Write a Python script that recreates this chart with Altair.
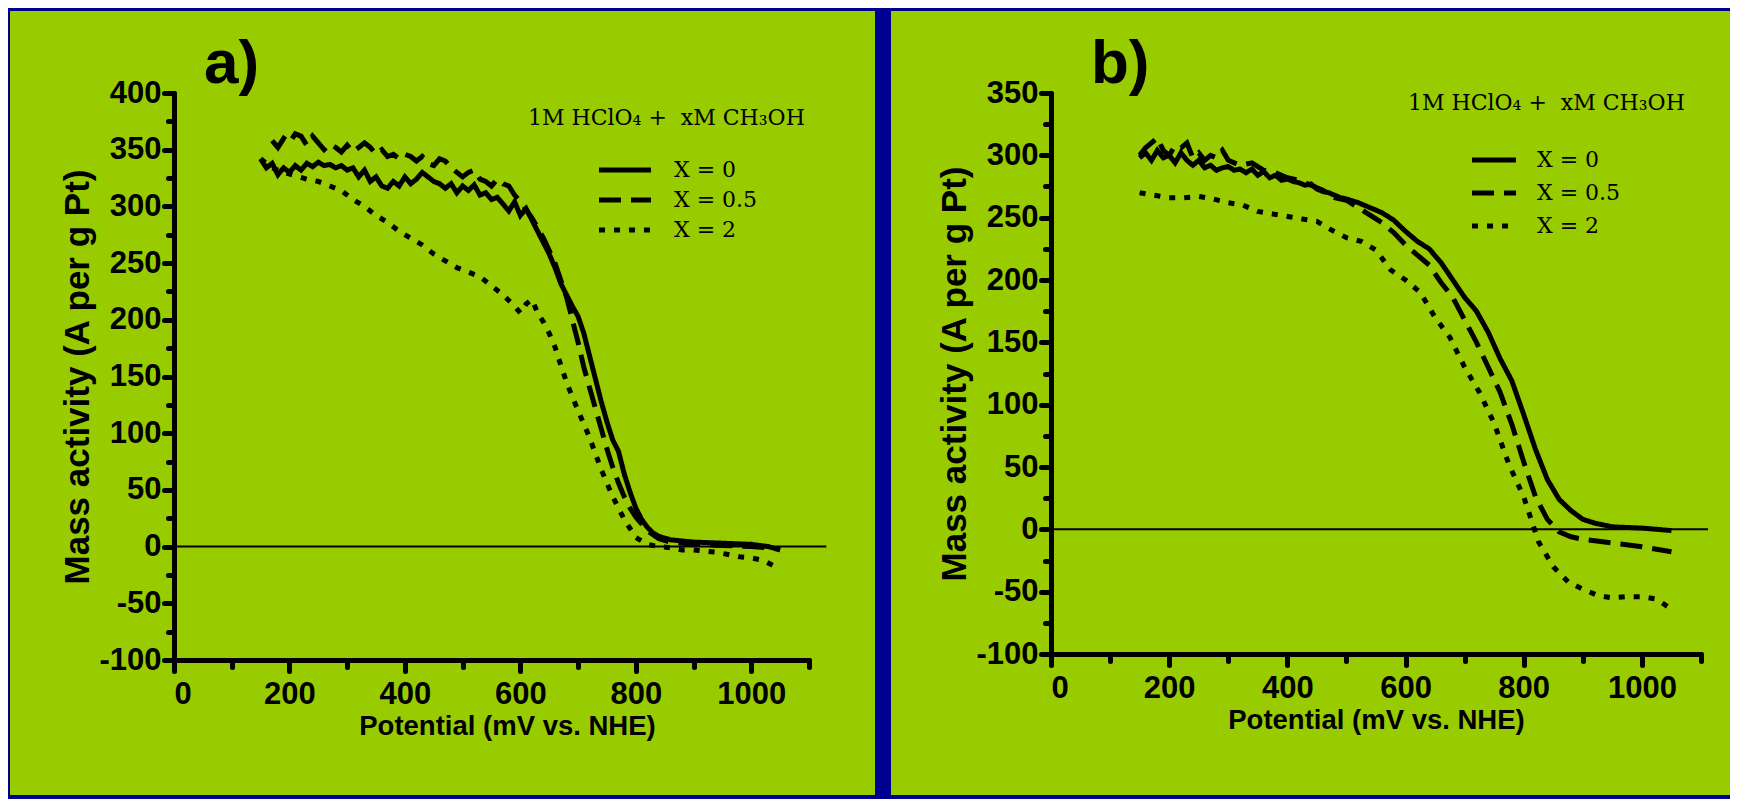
import altair as alt
import pandas as pd

BLUE = "#000090"
GREEN = "#99CC00"
SERIES = ["X = 0", "X = 0.5", "X = 2"]
HEADER = "1M HClO\u2084 +\u00a0 xM CH\u2083OH"

# ---------------- panel a ----------------
a_x0_x = list(range(150, 850, 10)) + [860, 880, 900, 950, 1000, 1030, 1050]
a_x0_y = [342, 334, 338, 328, 334, 330, 336, 332, 338, 335,
          339, 336, 337, 334, 336, 332, 334, 326, 332, 322,
          326, 318, 316, 322, 318, 326, 320, 324, 330, 326,
          322, 320, 316, 320, 312, 318, 314, 319, 310, 312,
          306, 308, 302, 296, 304, 292, 298, 288, 278, 268,
          258, 246, 232, 222, 212, 203, 188, 168, 148, 128,
          110, 94, 84, 64, 48, 34, 24, 17, 12, 9,
          6, 5, 4, 3, 2, 0, -3]

a_x05_x = list(range(170, 610, 10)) + [620, 640, 660, 680, 690, 700, 710, 720, 730, 740, 750,
                                       760, 770, 780, 790, 800, 820, 840, 860, 900, 950, 1000, 1050]
a_x05_y = [358, 352, 360, 356, 364, 362, 354, 362, 356, 350,
           355, 352, 348, 354, 348, 352, 356, 352, 346, 350,
           344, 346, 342, 346, 344, 340, 344, 338, 336, 342,
           340, 334, 330, 326, 330, 332, 324, 322, 318, 324,
           320, 318, 310, 304,
           290, 272, 250, 220, 200, 180, 158, 140, 122, 104, 86,
           70, 56, 44, 34, 26, 14, 7, 4, 2, 1, 0, -2]

a_x2_x = (list(range(150, 340, 20)) + list(range(350, 600, 20)) + list(range(600, 770, 10))
          + list(range(780, 1030, 20)) + [1050])
a_x2_y = [342, 334, 330, 327, 324, 322, 318, 314, 306, 300,
          292, 286, 278, 272, 266, 258, 252, 246, 242, 238, 230, 222, 212,
          206, 214, 218, 206, 198, 188, 176, 160, 145, 132, 120, 108, 96, 82, 68, 56, 44,
          24, 8, 2, 0, -1, -3, -3, -4, -5, -7, -9, -10, -12,
          -20]

# ---------------- panel b ----------------
b_x0_x = list(range(150, 510, 10)) + list(range(520, 910, 20)) + [920, 950, 1000, 1050]
b_x0_y = [298, 302, 296, 304, 298, 300, 294, 302, 296, 292,
          296, 290, 292, 288, 290, 291, 288, 289, 286, 289,
          284, 287, 282, 284, 280, 281, 279, 278, 276, 277,
          273, 271, 270, 268, 266, 265,
          262, 258, 254, 248, 239, 231, 225, 214, 200, 186,
          175, 158, 137, 119, 92, 64, 40, 24, 15, 8,
          5, 2, 1, -1]

b_x05_x = list(range(150, 310, 10)) + list(range(320, 910, 20)) + [950, 1000, 1050]
b_x05_y = [300, 306, 310, 314, 304, 300, 308, 306, 310, 298,
           302, 296, 300, 298, 304, 296,
           292, 294, 288, 286, 282, 280, 276, 272, 266, 264,
           258, 252, 246, 238, 228, 220, 212, 198, 186, 168,
           150, 130, 110, 84, 54, 26, 8, -2, -6, -8,
           -11, -14, -18]

b_x2_x = list(range(150, 1075, 25))
b_x2_y = [270, 268, 266, 266, 267, 265, 262, 260, 255, 253,
          251, 249, 247, 240, 234, 231, 224, 208, 200, 190,
          170, 154, 130, 110, 85, 52, 26, -10, -30, -42,
          -48, -53, -55, -54, -54, -56, -64]


def frame(xs_list, ys_list):
    rows = []
    for name, xs, ys in zip(SERIES, xs_list, ys_list):
        assert len(xs) == len(ys), (name, len(xs), len(ys))
        for x, y in zip(xs, ys):
            rows.append({"potential": x, "activity": y, "series": name})
    return pd.DataFrame(rows)


df_a = frame([a_x0_x, a_x05_x, a_x2_x], [a_x0_y, a_x05_y, a_x2_y])
df_b = frame([b_x0_x, b_x05_x, b_x2_x], [b_x0_y, b_x05_y, b_x2_y])

SANS = "Liberation Sans"
SERIF = "DejaVu Serif"
AX = dict(
    grid=False, domainColor="black", domainWidth=5, domainCap="round",
    tickColor="black", tickWidth=5, tickCap="round",
    labelFont=SANS, labelFontSize=31, labelFontWeight="bold", labelColor="black",
    labelOverlap=False, titleColor="black", zindex=2,
)
MINOR = dict(
    grid=False, domain=False, labels=False, title=None,
    tickColor="black", tickWidth=5, tickCap="round", zindex=2,
)


def panel(df, label, ydom, w, h, rect, label_xy, header_xy, leg, zero_end, xtitle_x):
    one = alt.Data(values=[{}])
    xs = alt.Scale(domain=[0, 1100], nice=False, zero=False)
    ys = alt.Scale(domain=ydom, nice=False, zero=False)
    x_axis = alt.Axis(
        orient="bottom", values=list(range(0, 1001, 200)), tickSize=11,
        labelExpr="'' + datum.value",
        title="Potential (mV vs. NHE)", titleX=xtitle_x,
        titleFont=SANS, titleFontSize=27.5, titleFontWeight="bold",
        titlePadding=3, labelPadding=8, **AX,
    )
    y_axis = alt.Axis(
        orient="left", values=list(range(ydom[0], ydom[1] + 1, 50)), tickSize=10,
        labelExpr="'' + datum.value",
        title="Mass activity (A per g Pt)", titleX=-79,
        titleFont=SANS, titleFontSize=35, titleFontWeight="bold",
        labelPadding=3, **AX,
    )
    x_minor = alt.Axis(orient="bottom", values=list(range(100, 1101, 200)), tickSize=7, **MINOR)
    y_minor = alt.Axis(orient="left", values=list(range(ydom[0] + 25, ydom[1], 50)),
                       tickSize=6, **MINOR)
    bg = alt.Chart(one).mark_rect(color=GREEN).encode(
        x=alt.value(rect[0]), x2=alt.value(rect[1]),
        y=alt.value(rect[2]), y2=alt.value(rect[3]),
    )
    zero = alt.Chart(one).mark_rule(color="black", strokeWidth=2).encode(
        x=alt.datum(0, type="quantitative", scale=xs, axis=x_minor),
        x2=alt.datum(zero_end),
        y=alt.datum(0, type="quantitative", scale=ys, axis=y_minor),
    )
    lines = alt.Chart(df).mark_line(color="black", strokeWidth=5, strokeCap="butt").encode(
        x=alt.X("potential:Q", scale=xs, axis=x_axis),
        y=alt.Y("activity:Q", scale=ys, axis=y_axis),
        strokeDash=alt.StrokeDash(
            "series:N",
            scale=alt.Scale(domain=SERIES, range=[[1, 0], [22, 10], [6, 9]]),
            legend=alt.Legend(
                title=None, orient="none", legendX=leg[0], legendY=leg[1],
                symbolType=leg[3], symbolSize=64, symbolStrokeWidth=5,
                symbolStrokeColor="black",
                labelFont=SERIF, labelFontSize=22, labelColor="black",
                labelOffset=leg[4], rowPadding=leg[2], zindex=2, padding=0,
            ),
        ),
        order="potential:Q",
    )
    lab = alt.Chart(one).mark_text(
        text=label, font=SANS, fontSize=62, fontWeight="bold",
        align="left", baseline="alphabetic", color="black",
    ).encode(x=alt.value(label_xy[0]), y=alt.value(label_xy[1]))
    head = alt.Chart(one).mark_text(
        text=HEADER, font=SERIF, fontSize=22, align="left", baseline="middle", color="black",
    ).encode(x=alt.value(header_xy[0]), y=alt.value(header_xy[1]))
    return (
        alt.layer(bg, zero, lines, lab, head)
        .resolve_axis(x="independent", y="independent")
        .properties(width=w, height=h)
    )


pa = panel(df_a, "a)", [-100, 400], 635, 567,
           (-164, 701, -82, 702), (30, -10), (354, 25),
           (462, 66, 8, "M -12 0 L 1 0", 16), 1130, 333)
pb = panel(df_b, "b)", [-100, 350], 650, 561,
           (-160, 679, -82, 702), (40, -10), (357, 10),
           (450, 56, 11, "M -10 0 L 1 0", 14), 1112, 325)

chart = (
    alt.hconcat(pa, pb, spacing=16)
    .resolve_scale(strokeDash="independent")
    .resolve_legend(strokeDash="independent")
    .configure(background=BLUE, padding={"left": 2, "top": 3, "right": 0, "bottom": 4})
    .configure_view(strokeWidth=0)
)

chart.save("out.html", embed_options={"renderer": "svg", "actions": False})
